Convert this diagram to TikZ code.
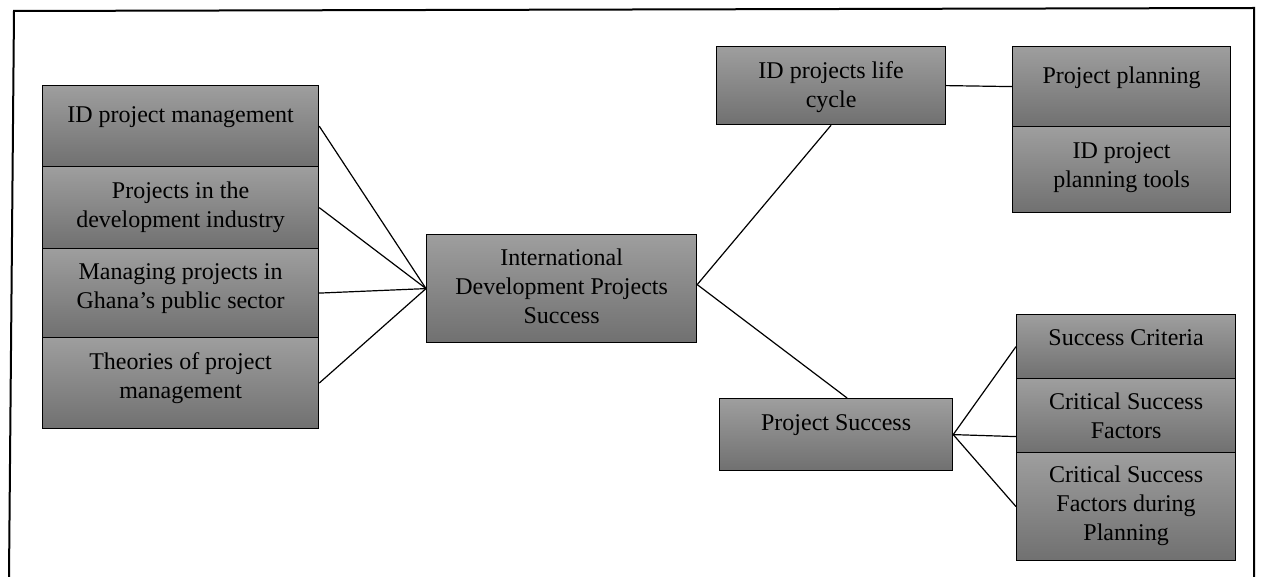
\documentclass[tikz,border=0pt]{standalone}
\usepackage{fontspec}
\setmainfont{Liberation Serif}
\definecolor{boxtop}{gray}{0.62}
\definecolor{boxbot}{gray}{0.44}
% top-aligned, centred text block of a given size; #3 = space above the first line
\newcommand\cellbody[4]{\parbox[t][#2pt][t]{#1pt}{\centering\vspace*{#3pt}\strut #4}}
\begin{document}
\begin{tikzpicture}[x=1pt,y=-1pt,
  cell/.style={draw=black, line width=1.2pt, top color=boxtop, bottom color=boxbot,
    inner sep=0pt, anchor=north west, font=\fontsize{24}{29}\selectfont},
  link/.style={draw=black, line width=1.2pt},
  frameline/.style={draw=black, line width=2pt}]
\useasboundingbox (0,0) rectangle (1262,577);

% outer frame, open at the bottom
\coordinate (f1) at (9,577);
\coordinate (f2) at (14,11);
\coordinate (f3) at (1254,8);
\coordinate (f4) at (1254,577);
\draw[frameline] (f1) -- (f2) -- (f3) -- (f4);

% left column of topics
\node[cell] (l1) at (42,85)  {\cellbody{276}{81}{16.7}{ID project management}};
\node[cell] (l2) at (42,166) {\cellbody{276}{82}{11.7}{Projects in the\\development industry}};
\node[cell] (l3) at (42,248) {\cellbody{276}{89}{11}{Managing projects in\\Ghana’s public sector}};
\node[cell] (l4) at (42,337) {\cellbody{276}{91}{11.7}{Theories of project\\management}};

% central theme
\node[cell] (c) at (426,234) {\cellbody{270}{108}{10.7}{International\\Development Projects\\Success}};

% upper branch
\node[cell] (lc) at (716,46)  {\cellbody{229}{78}{11.7}{ID projects life\\cycle}};
\node[cell] (pp) at (1012,46) {\cellbody{218}{80}{16.7}{Project planning}};
\node[cell] (pt) at (1012,126){\cellbody{218}{86}{11.7}{ID project\\planning tools}};

% lower branch
\node[cell] (ps) at (719,398)   {\cellbody{233}{72}{11.7}{Project Success}};
\node[cell] (sc) at (1016,314)  {\cellbody{219}{64}{10.7}{Success Criteria}};
\node[cell] (csf) at (1016,378) {\cellbody{219}{74}{10.7}{Critical Success\\Factors}};
\node[cell] (csfp) at (1016,452){\cellbody{219}{108}{10}{Critical Success\\Factors during\\Planning}};

% connectors
\foreach \n in {l1,l2,l3,l4} \draw[link] (\n.east) -- (c.west);
\draw[link] ([yshift=4pt]c.east) -- (lc.south);
\draw[link] ([yshift=4pt]c.east) -- ([xshift=11pt]ps.north);
\draw[link] (lc.east) -- (pp.west);
\draw[link] (ps.east) -- (sc.west);
\draw[link] (ps.east) -- ([yshift=-21pt]csf.west);
\draw[link] (ps.east) -- (csfp.west);
\end{tikzpicture}
\end{document}
